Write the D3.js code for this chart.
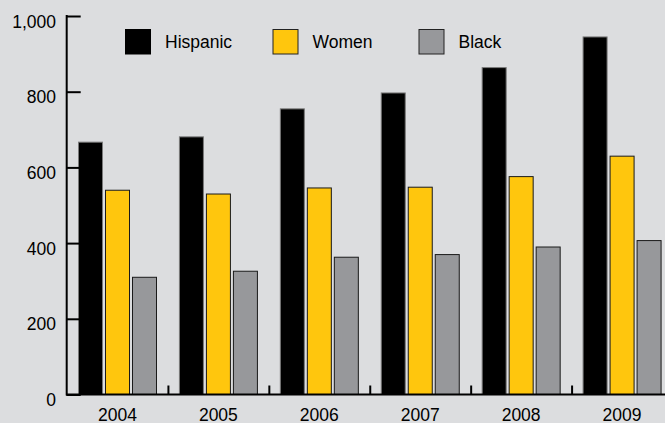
<!DOCTYPE html>
<html><head><meta charset="utf-8">
<script src="https://cdn.jsdelivr.net/npm/d3@7"></script>
<style>
html,body{margin:0;padding:0;background:#dcdddf;}
svg{display:block;font-family:"Liberation Sans",Arial,sans-serif;}
</style></head>
<body>
<svg id="c" width="665" height="423"></svg>
<script>
const years = ["2004","2005","2006","2007","2008","2009"];
const seriesNames = ["Hispanic","Women","Black"];
const hispanic = [668, 682, 756, 798, 865, 946];
const women = [541, 531, 547, 549, 577, 631];
const black = [311, 327, 364, 371, 391, 408];
const yTicks = [0, 200, 400, 600, 800, 1000];

const values = {Hispanic: hispanic, Women: women, Black: black};
const fills = {Hispanic: "#000000", Women: "#ffc60d", Black: "#97989b"};
const strokes = {Hispanic: "#7a7a7a", Women: "#1a1a1a", Black: "#1a1a1a"};

const svg = d3.select("#c");
svg.append("rect").attr("width",665).attr("height",423).attr("fill","#dcdddf");

const x0 = d3.scaleBand().domain(years).range([67, 672.5]).padding(0);
const x1 = d3.scaleBand().domain(seriesNames).range([11, 92]).padding(0);
const y = d3.scaleLinear().domain([0, 1000]).range([394.5, 16]);

// bars
const g = svg.append("g");
years.forEach((yr, i) => {
  seriesNames.forEach(s => {
    const v = values[s][i];
    g.append("rect")
      .attr("x", x0(yr) + x1(s) + 0.5)
      .attr("y", y(v) + 0.5)
      .attr("width", x1.bandwidth() - 3)
      .attr("height", y(0) - y(v) - 0.5)
      .attr("fill", fills[s])
      .attr("stroke", strokes[s])
      .attr("stroke-width", 1);
  });
});

// y axis
const yAxis = d3.axisRight(y).tickValues(yTicks).tickSize(14).tickFormat("");
const ya = svg.append("g").attr("transform","translate(66.7,0)").call(yAxis);
ya.select(".domain").remove();
ya.selectAll("line").attr("stroke","#000").attr("stroke-width",2);
svg.append("line").attr("x1",66.7).attr("x2",66.7).attr("y1",y(1000)-1).attr("y2",y(0)+1)
  .attr("stroke","#000").attr("stroke-width",2);
svg.append("g").selectAll("text").data(yTicks).join("text")
  .attr("x", 56).attr("y", d => y(d) + 11.5)
  .attr("text-anchor","end").attr("font-size",17.5).attr("fill","#000")
  .text(d => d3.format(",")(d));

// x axis
svg.append("line").attr("x1",66).attr("x2",665).attr("y1",y(0)).attr("y2",y(0))
  .attr("stroke","#000").attr("stroke-width",2);
const bounds = years.slice(1).map(yr => x0(yr));
svg.append("g").selectAll("line").data(bounds).join("line")
  .attr("x1", d => d + 0.5).attr("x2", d => d + 0.5)
  .attr("y1", y(0)).attr("y2", y(0) - 9)
  .attr("stroke","#000").attr("stroke-width",2);
svg.append("g").selectAll("text").data(years).join("text")
  .attr("x", d => x0(d) + x0.bandwidth()/2).attr("y", 421)
  .attr("text-anchor","middle").attr("font-size",17.5).attr("fill","#000")
  .text(d => d);

// legend
const legX = {Hispanic: 125, Women: 272.5, Black: 418.5};
const lg = svg.append("g");
seriesNames.forEach(s => {
  lg.append("rect").attr("x", legX[s] + 0.5).attr("y", 29.5).attr("width", 25).attr("height", 24.5)
    .attr("fill", fills[s]).attr("stroke", s === "Hispanic" ? "#000" : "#222").attr("stroke-width",1);
  lg.append("text").attr("x", legX[s] + 40).attr("y", 47.7)
    .attr("font-size",17.5).attr("fill","#000").text(s);
});
</script>
</body></html>
